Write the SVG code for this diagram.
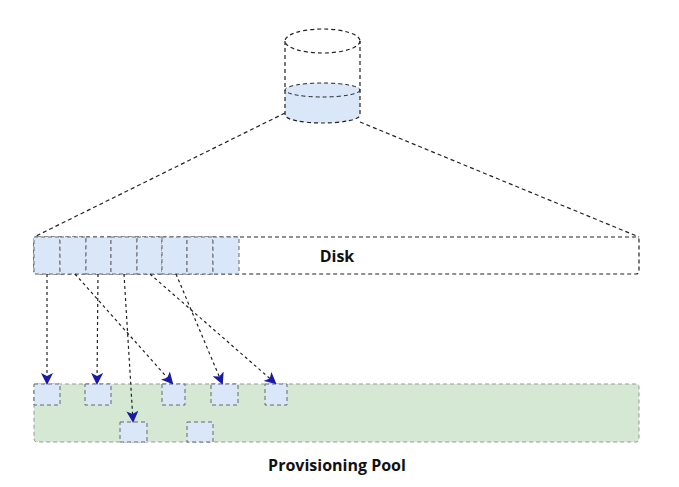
<svg xmlns="http://www.w3.org/2000/svg" width="679" height="487" viewBox="0 0 679 487">
<style>
.d{fill:none;stroke:#222;stroke-width:1.2;stroke-dasharray:4 3}
.c{fill:#dae7f8;stroke:#666;stroke-width:1;stroke-dasharray:4 3}
.p{fill:#d5e8d4;stroke:#999;stroke-width:1;stroke-dasharray:4 3}
.a{fill:none;stroke:#222;stroke-width:1.2;stroke-dasharray:3 3;marker-end:url(#ar)}
text{font-family:"Open Sans","Noto Sans",sans-serif;font-weight:bold;fill:#111}
</style>
<defs><marker id="ar" markerWidth="12" markerHeight="12" refX="10" refY="6" orient="auto" markerUnits="userSpaceOnUse"><path d="M0,0 L12,6 L0,12 L3,6 z" fill="#1a1aa8"/></marker></defs>
<rect width="679" height="487" fill="#fff"/>
<g id="cylinder">
<path class="c" d="M285,90 L285,115 A37.5,8 0 0 0 360,115 L360,90 A37.5,7 0 0 0 285,90 z" style="stroke:none"/>
<ellipse class="c" cx="322.5" cy="90" rx="37.5" ry="7" style="stroke:#222;fill:none"/>
<path class="d" d="M285,41 L285,115 A37.5,8 0 0 0 360,115 L360,41"/>
<ellipse class="d" cx="322.5" cy="41" rx="37.5" ry="12"/>
</g>
<g id="disk">
<rect class="d" x="34" y="237" width="605" height="37" rx="3"/>
<rect class="c" x="34" y="237" width="26" height="37"/><rect class="c" x="60" y="237" width="26" height="37"/><rect class="c" x="86" y="237" width="25" height="37"/><rect class="c" x="111" y="237" width="26" height="37"/><rect class="c" x="137" y="237" width="25" height="37"/><rect class="c" x="162" y="237" width="25" height="37"/><rect class="c" x="187" y="237" width="26" height="37"/><rect class="c" x="213" y="237" width="26" height="37"/>
<text x="337" y="262" font-size="16" text-anchor="middle">Disk</text>
</g>
<g id="pool">
<rect class="p" x="34" y="384" width="605" height="58" rx="3"/>
<rect class="c" x="34" y="384" width="26" height="21"/><rect class="c" x="85" y="384" width="26" height="21"/><rect class="c" x="162" y="384" width="23" height="21"/><rect class="c" x="211" y="384" width="27" height="21"/><rect class="c" x="265" y="384" width="22" height="21"/>
<rect class="c" x="120" y="422" width="27" height="20"/><rect class="c" x="187" y="422" width="26" height="20"/>
<text x="337" y="471" font-size="16" text-anchor="middle">Provisioning Pool</text>
</g>
<g id="connectors">
<line class="d" x1="285" y1="113" x2="34" y2="237"/>
<line class="d" x1="360" y1="122" x2="639" y2="237"/>
<line class="a" x1="47" y1="274" x2="47" y2="383"/>
<line class="a" x1="98" y1="274" x2="97" y2="383"/>
<line class="a" x1="75" y1="274" x2="172" y2="383"/>
<line class="a" x1="124" y1="274" x2="133" y2="421"/>
<line class="a" x1="150" y1="274" x2="275" y2="383"/>
<line class="a" x1="176" y1="274" x2="222" y2="383"/>
</g>
</svg>
